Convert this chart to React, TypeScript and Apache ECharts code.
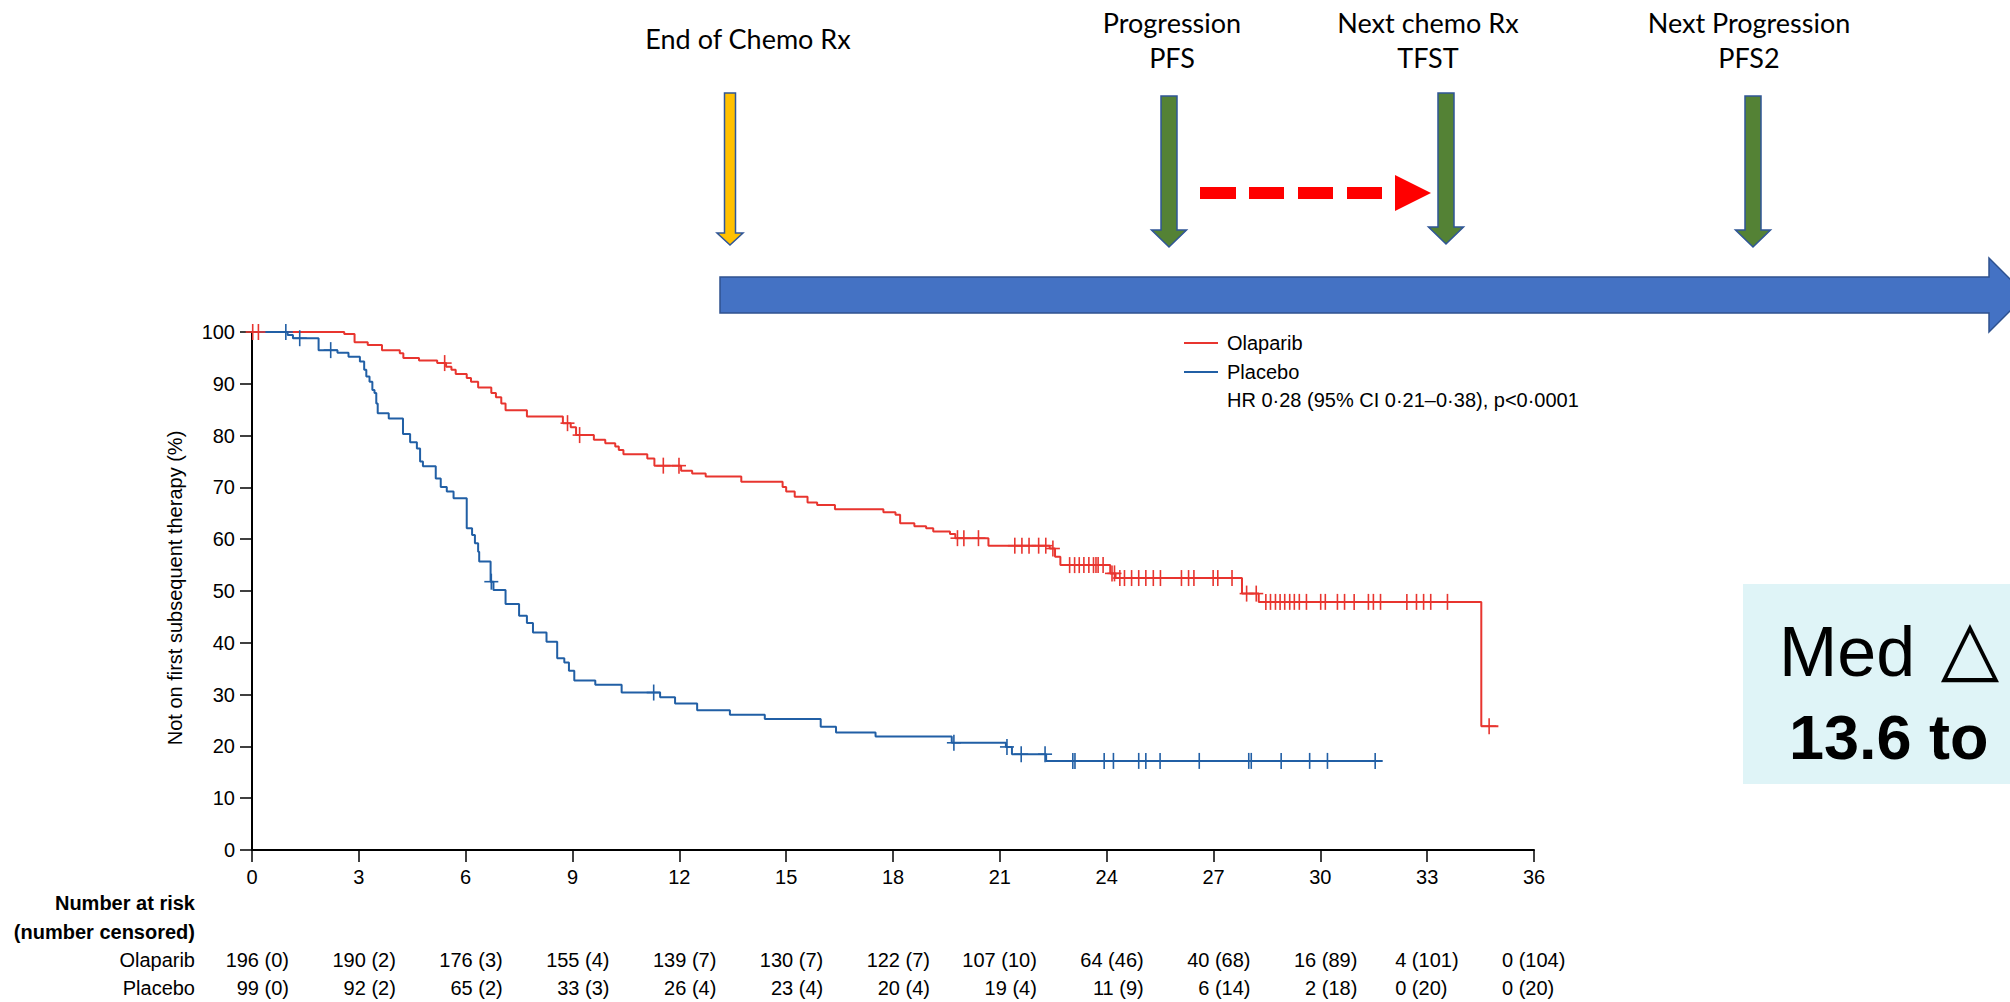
import React, { useEffect, useRef } from "react";
import * as echarts from "echarts";

// ---------------- data ----------------
const xTickMax = 36;
const xTickInterval = 3;
const yTickMax = 100;
const yTickInterval = 10;

// Kaplan–Meier steps [month, % not on first subsequent therapy]
const olaparibSteps: [number, number][] = [
  [0, 100], [2.59, 99.6], [2.88, 98.0], [3.25, 97.5], [3.65, 96.5], [4.15, 95.9], [4.25, 95.0],
  [4.69, 94.5], [5.2, 94.0], [5.45, 93.3], [5.6, 92.7], [5.72, 91.9], [6.03, 91.1], [6.15, 90.4],
  [6.35, 89.3], [6.72, 88.2], [6.85, 87.4], [7.0, 86.2], [7.12, 84.9], [7.72, 83.7], [8.73, 82.4],
  [8.95, 81.6], [9.1, 80.1], [9.6, 79.2], [9.92, 78.5], [10.2, 77.9], [10.3, 77.2], [10.43, 76.4],
  [11.1, 75.6], [11.3, 74.2], [12.05, 73.2], [12.36, 72.7], [12.74, 72.1], [13.74, 71.1],
  [14.9, 70.1], [15.0, 69.2], [15.24, 68.2], [15.6, 67.1], [15.87, 66.6], [16.37, 65.8],
  [17.73, 65.2], [18.07, 64.7], [18.2, 63.1], [18.6, 62.5], [18.93, 62.1], [19.13, 61.5],
  [19.6, 61.0], [19.75, 60.2], [20.68, 58.75], [22.4, 58.2], [22.55, 56.6], [22.7, 55.0],
  [24.1, 53.4], [24.25, 52.5], [27.8, 49.5], [28.27, 47.9], [34.52, 23.9], [35.0, 23.9],
];
const placeboSteps: [number, number][] = [
  [0, 100], [1.0, 99.4], [1.15, 98.8], [1.87, 96.5], [2.4, 96.0], [2.71, 95.2], [3.03, 94.3],
  [3.15, 92.7], [3.21, 91.4], [3.3, 90.4], [3.38, 88.8], [3.44, 88.2], [3.49, 86.2], [3.53, 84.3],
  [3.84, 83.3], [4.24, 80.3], [4.44, 78.7], [4.63, 77.5], [4.72, 75.0], [4.8, 74.1], [5.16, 71.7],
  [5.3, 70.1], [5.47, 69.2], [5.66, 67.9], [6.03, 62.1], [6.18, 60.8], [6.26, 59.2], [6.35, 57.6],
  [6.38, 55.7], [6.7, 51.8], [6.78, 50.2], [7.12, 47.5], [7.5, 45.2], [7.72, 43.8], [7.89, 42.0],
  [8.27, 40.2], [8.57, 37.0], [8.77, 36.2], [8.9, 34.6], [9.05, 32.7], [9.64, 31.9], [10.38, 30.4],
  [11.46, 29.5], [11.88, 28.3], [12.5, 27.0], [13.42, 26.1], [14.4, 25.3], [15.97, 23.8],
  [16.4, 22.7], [17.51, 21.9], [19.65, 20.7], [21.17, 19.9], [21.34, 18.5], [22.3, 17.2],
  [31.75, 17.2],
];

// censoring times (months)
const olaparibCensored = [
  0.02, 0.18, 5.41, 8.86, 9.2, 11.55, 11.99, 19.81, 19.99, 20.4, 21.42, 21.62, 21.82, 22.09, 22.29,
  22.49, 22.96, 23.1, 23.23, 23.36, 23.5, 23.63, 23.7, 23.76, 23.9, 24.15, 24.22, 24.37, 24.5, 24.7,
  24.9, 25.1, 25.31, 25.51, 26.1, 26.3, 26.45, 26.99, 27.12, 27.52, 27.93, 28.2, 28.47, 28.6, 28.74,
  28.87, 29.0, 29.14, 29.27, 29.41, 29.61, 30.01, 30.14, 30.48, 30.68, 30.95, 31.35, 31.49, 31.69,
  32.43, 32.7, 32.9, 33.1, 33.57, 34.74,
];
const placeboCensored = [
  0.95, 1.34, 2.21, 6.72, 11.28, 19.71, 21.2, 21.6, 22.27, 23.05, 23.11, 23.93, 24.19, 24.9, 25.1,
  25.5, 26.6, 27.99, 28.06, 28.9, 29.7, 30.2, 31.54,
];

// number at risk (number censored)
const riskTimes = [0, 3, 6, 9, 12, 15, 18, 21, 24, 27, 30, 33, 36];
const olaparibAtRisk = ["196 (0)", "190 (2)", "176 (3)", "155 (4)", "139 (7)", "130 (7)", "122 (7)", "107 (10)", "64 (46)", "40 (68)", "16 (89)", "4 (101)", "0 (104)"];
const placeboAtRisk = ["99 (0)", "92 (2)", "65 (2)", "33 (3)", "26 (4)", "23 (4)", "20 (4)", "19 (4)", "11 (9)", "6 (14)", "2 (18)", "0 (20)", "0 (20)"];

const seriesNames = ["Olaparib", "Placebo"];
const hrText = "HR 0·28 (95% CI 0·21–0·38), p<0·0001";
const yAxisTitle = "Not on first subsequent therapy (%)";

// ---------------- style ----------------
const RED = "#E8352F";
const BLUE = "#215FA5";
const FONT = "'Liberation Sans', Arial, sans-serif";
const ANNOT = "Lato, 'Open Sans', sans-serif";

function valueAt(steps: [number, number][], t: number) {
  let v = steps[0][1];
  for (const [tt, vv] of steps) {
    if (tt <= t) v = vv;
    else break;
  }
  return v;
}

function downArrow(cx: number, top: number, tip: number, shaftW: number, headW: number, headH: number, fill: string) {
  const b = tip - headH;
  return {
    type: "polygon",
    shape: {
      points: [
        [cx - shaftW / 2, top], [cx + shaftW / 2, top], [cx + shaftW / 2, b], [cx + headW / 2, b],
        [cx, tip], [cx - headW / 2, b], [cx - shaftW / 2, b],
      ],
    },
    style: { fill, stroke: "#2F5597", lineWidth: 1.5 },
  };
}

function censorSeries(name: string, times: number[], steps: [number, number][], color: string) {
  return {
    name: name + " censored",
    type: "custom",
    data: times.map((t) => [t, valueAt(steps, t)]),
    renderItem: (_params: any, api: any) => {
      const p = api.coord([api.value(0), api.value(1)]);
      return {
        type: "group",
        children: [
          { type: "line", shape: { x1: p[0] - 7, y1: p[1], x2: p[0] + 7, y2: p[1] }, style: { stroke: color, lineWidth: 1.6 } },
          { type: "line", shape: { x1: p[0], y1: p[1] - 8, x2: p[0], y2: p[1] + 8 }, style: { stroke: color, lineWidth: 1.6 } },
        ],
      };
    },
    z: 3,
  };
}

export default function App() {
  const ref = useRef<HTMLDivElement>(null);

  useEffect(() => {
    if (!ref.current) return;
    const chart = echarts.init(ref.current, null, { renderer: "svg" });
    const axisLine = { show: true, lineStyle: { color: "#000", width: 2 } };
    const option: any = {
      animation: false,
      backgroundColor: "#ffffff",
      grid: { left: 252, top: 332, width: 1282, height: 518 },
      xAxis: {
        type: "value",
        min: 0,
        max: xTickMax,
        interval: xTickInterval,
        axisLine,
        axisTick: { show: true, length: 12, lineStyle: { color: "#000", width: 1.5 } },
        axisLabel: { margin: 17, fontSize: 20, color: "#000", fontFamily: FONT },
        splitLine: { show: false },
      },
      yAxis: {
        type: "value",
        min: 0,
        max: yTickMax,
        interval: yTickInterval,
        axisLine,
        axisTick: { show: true, length: 12, lineStyle: { color: "#000", width: 1.5 } },
        axisLabel: { margin: 17, fontSize: 20, color: "#000", fontFamily: FONT },
        splitLine: { show: false },
      },
      series: [
        {
          name: seriesNames[0],
          type: "line",
          step: "end",
          data: olaparibSteps,
          showSymbol: false,
          lineStyle: { color: RED, width: 2 },
          z: 2,
        },
        {
          name: seriesNames[1],
          type: "line",
          step: "end",
          data: placeboSteps,
          showSymbol: false,
          lineStyle: { color: BLUE, width: 2 },
          z: 2,
        },
        censorSeries(seriesNames[0], olaparibCensored, olaparibSteps, RED),
        censorSeries(seriesNames[1], placeboCensored, placeboSteps, BLUE),
      ],
    };
    chart.setOption(option);

    const px = (t: number) => chart.convertToPixel({ xAxisIndex: 0 }, t) as number;
    const els: any[] = [];

    // big timeline arrow
    els.push({
      type: "polygon",
      shape: { points: [[720, 277], [1989, 277], [1989, 258], [2026, 295], [1989, 332], [1989, 313], [720, 313]] },
      style: { fill: "#4472C4", stroke: "#2F528F", lineWidth: 1.5 },
    });
    els.push(downArrow(730, 93, 245, 11, 26, 12, "#FFC000"));
    els.push(downArrow(1169, 96, 247, 16, 35, 17, "#548235"));
    els.push(downArrow(1446, 93, 244, 16, 35, 17, "#548235"));
    els.push(downArrow(1753, 96, 247, 16, 35, 17, "#548235"));

    // red dashed arrow
    [[1200, 1236], [1249, 1284], [1298, 1333], [1347, 1382]].forEach(([a, b]) =>
      els.push({ type: "rect", shape: { x: a, y: 187, width: b - a, height: 12 }, style: { fill: "#FF0000" } })
    );
    els.push({ type: "polygon", shape: { points: [[1395, 175], [1431, 193], [1395, 211]] }, style: { fill: "#FF0000" } });

    const annot = (text: string, x: number, y: number) => ({
      type: "text",
      x,
      y,
      style: { text, fill: "#000", font: `27px ${ANNOT}`, align: "center", verticalAlign: "middle" },
    });
    els.push(annot("End of Chemo Rx", 748, 38));
    els.push(annot("Progression", 1172, 22));
    els.push(annot("PFS", 1172, 57));
    els.push(annot("Next chemo Rx", 1428, 22));
    els.push(annot("TFST", 1428, 57));
    els.push(annot("Next Progression", 1749, 22));
    els.push(annot("PFS2", 1749, 57));

    // Med delta box
    els.push({ type: "rect", shape: { x: 1743, y: 584, width: 300, height: 200 }, style: { fill: "#DFF4F7" } });
    els.push({
      type: "text", x: 1779, y: 652,
      style: { text: "Med", fill: "#000", font: `70px 'Liberation Sans', Arial, sans-serif`, align: "left", verticalAlign: "middle" },
    });
    els.push({
      type: "text", x: 1970, y: 646,
      style: { text: "△", fill: "#000", font: `76px 'DejaVu Sans', sans-serif`, align: "center", verticalAlign: "middle" },
    });
    els.push({
      type: "text", x: 1789, y: 737,
      style: { text: "13.6 to", fill: "#000", font: `bold 63px 'Liberation Sans', Arial, sans-serif`, align: "left", verticalAlign: "middle" },
    });

    // legend
    els.push({ type: "line", shape: { x1: 1184, y1: 343, x2: 1218, y2: 343 }, style: { stroke: RED, lineWidth: 2 } });
    els.push({ type: "line", shape: { x1: 1184, y1: 372, x2: 1218, y2: 372 }, style: { stroke: BLUE, lineWidth: 2 } });
    const txt = (text: string, x: number, y: number, align: string, bold = false, size = 20) => ({
      type: "text",
      x,
      y,
      style: { text, fill: "#000", font: `${bold ? "bold " : ""}${size}px ${FONT}`, align, verticalAlign: "middle" },
    });
    els.push(txt(seriesNames[0], 1227, 343, "left"));
    els.push(txt(seriesNames[1], 1227, 372, "left"));
    els.push(txt(hrText, 1227, 400, "left"));

    // y axis title
    els.push({
      type: "text",
      x: 175,
      y: 588,
      rotation: Math.PI / 2,
      style: { text: yAxisTitle, fill: "#000", font: `20px ${FONT}`, align: "center", verticalAlign: "middle" },
    });

    // number at risk table
    els.push(txt("Number at risk", 195, 903, "right", true));
    els.push(txt("(number censored)", 195, 932, "right", true));
    els.push(txt(seriesNames[0], 195, 960, "right"));
    els.push(txt(seriesNames[1], 195, 988, "right"));
    riskTimes.forEach((t, i) => {
      const x = px(t);
      const leftAlign = i >= riskTimes.length - 2;
      const ax = leftAlign ? x - 32 : x + 37;
      const al = leftAlign ? "left" : "right";
      els.push(txt(olaparibAtRisk[i], ax, 960, al));
      els.push(txt(placeboAtRisk[i], ax, 988, al));
    });

    chart.setOption({ graphic: { elements: els } });

    return () => chart.dispose();
  }, []);

  return (
    <div
      ref={ref}
      style={{ position: "fixed", left: 0, top: 0, width: 2010, height: 1002, background: "#fff" }}
    />
  );
}
